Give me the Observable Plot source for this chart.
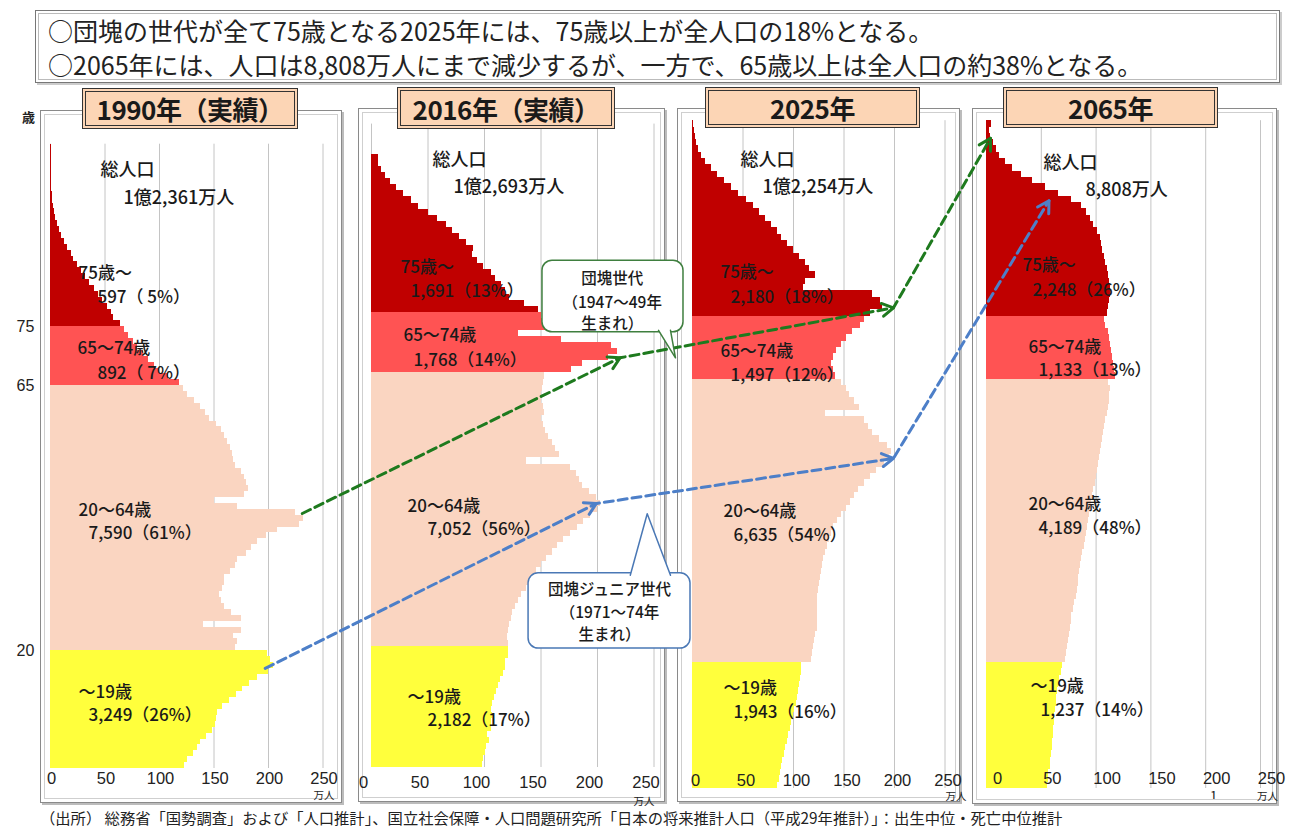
<!DOCTYPE html>
<html><head><meta charset="utf-8">
<script src="https://cdn.jsdelivr.net/npm/d3@7"></script>
<script src="https://cdn.jsdelivr.net/npm/@observablehq/plot@0.6"></script>
<style>
body{margin:0;background:#fff;font-family:"Noto Sans CJK JP",sans-serif;color:#222;}
#page{position:relative;width:1293px;height:829px;overflow:hidden;background:#fff;}
.frame{position:absolute;border:1px solid #8a8a8a;box-shadow:inset 0 0 0 3px #fff,inset 0 0 0 4px #cfcfcf,2px 2px 0 #bcbcbc;}
.ttl{position:absolute;box-sizing:border-box;background:#fcd5b5;border:4px double #333;font-weight:700;font-size:26px;display:flex;align-items:center;justify-content:center;color:#1a1a1a;z-index:3;letter-spacing:-0.5px;}
#head{position:absolute;left:35px;top:10px;width:1245px;height:73px;box-sizing:border-box;border:1px solid #777;box-shadow:inset 0 0 0 2px #fff,inset 0 0 0 3px #bbb,2px 2px 0 #ccc;padding:2px 0 0 12px;font-size:25px;line-height:34px;white-space:nowrap;}
#cap{position:absolute;left:40px;top:806px;font-size:15.3px;white-space:nowrap;}
#pg{position:absolute;left:1210px;top:786px;font-size:13px;}
svg{position:absolute;top:0;}
g[aria-label="sou"] text{letter-spacing:5px;}
g[aria-label="total"] text{letter-spacing:1.5px;}
g[aria-label="grp"] text{letter-spacing:0.5px;}
g[aria-label="tick"] text{letter-spacing:1px;}
</style></head>
<body><div id="page">
<div id="head">○団塊の世代が全て75歳となる2025年には、75歳以上が全人口の18%となる。<br>○2065年には、人口は8,808万人にまで減少するが、一方で、65歳以上は全人口の約38%となる。</div>
<div id="cap">（出所） 総務省「国勢調査」および「人口推計」、国立社会保障・人口問題研究所「日本の将来推計人口（平成29年推計）」：出生中位・死亡中位推計</div>
<div id="pg">1</div>
</div>
<script>
// ---- data (万人, single years of age starting at 0) ----
const yearTitles = ["1990年（実績）", "2016年（実績）", "2025年", "2065年"];
const pop1990 = [123,126,131,135,138,143,149,151,152,153,158,164,171,176,183,190,200,205,202,199,
 170,172,168,175,140,175,166,160,157,155,158,160,160,165,170,172,180,184,190,198,
 208,228,232,225,172,150,178,182,180,178,175,170,168,167,165,162,160,157,152,146,
 142,138,132,126,122,
 118,108,100,95,90,85,80,76,72,68,
 64,58,56,52,48,44,40,36,32,28,25,21,19,16,13,10,8,6,4.5,3.5,2.5,1.8,1.5,1.2,1,1,1,1,1,1,1];
const pop2016 = [98,99,101,102,104,103,106,106,107,106,107,109,111,112,114,117,119,119,121,121,
 121,120,121,122,124,125,127,130,133,137,140,143,146,150,155,160,165,170,176,182,
 188,194,200,203,199,193,187,184,181,176,137,166,163,160,157,154,152,150,153,152,
 150,150,151,152,153,
 177,187,210,218,212,168,130,158,158,150,
 148,135,122,119,115,110,106,99,94,89,90,84,78,72,66,58,50,42,35,28,22,17,12,9,6,6];
const pop2025 = [84,86,87,88,89,91,92,94,95,97,98,100,101,103,104,105,106,107,108,108,
 118,119,120,121,122,124,124,124,124,124,124,125,126,127,128,129,130,132,134,136,
 138,140,144,148,152,156,160,164,170,176,182,190,195,197,193,185,178,174,170,132,
 165,160,155,152,148,
 142,140,138,140,143,148,152,158,166,170,
 176,188,186,178,110,112,122,116,112,106,100,94,88,84,78,72,66,60,53,46,39,32,25,19,13,9,6,4,2.5,1.5,1];
const pop2065 = [56,57,57,58,58,59,60,60,61,61,62,62,63,64,64,65,66,67,68,69,
 72,73,74,75,76,77,78,78,79,80,82,83,84,84,85,86,87,88,89,90,
 91,92,93,94,95,96,97,98,99,100,101,102,103,104,105,106,107,108,109,110,
 111,112,112,113,111,
 118,117,116,115,114,113,112,111,109,108,
 110,111,112,113,113,112,111,110,109,108,106,105,104,101,98,95,91,87,78,66,54,42,32,24,17,12,9,6,4,3,5];
const pops = [pop1990, pop2016, pop2025, pop2065];

const groupNames = ["～19歳", "20～64歳", "65～74歳", "75歳～"];
const groupColors = ["#ffff3c", "#fad5c1", "#ff5353", "#c00000"];
const totals = ["1億2,361万人", "1億2,693万人", "1億2,254万人", "8,808万人"];
const values1990 = ["3,249（26%）", "7,590（61%）", "892（ 7%）", "597（ 5%）"];
const values2016 = ["2,182（17%）", "7,052（56%）", "1,768（14%）", "1,691（13%）"];
const values2025 = ["1,943（16%）", "6,635（54%）", "1,497（12%）", "2,180（18%）"];
const values2065 = ["1,237（14%）", "4,189（48%）", "1,133（13%）", "2,248（26%）"];
const groupValues = [values1990, values2016, values2025, values2065];
const xTicks = [0, 50, 100, 150, 200, 250];
const ageTicks = [20, 65, 75];

// cohorts followed by the arrows (value, age in each panel)
const dankaiPop = [231, 220, 199, 3.6];
const dankaiAge = [43.3, 67.5, 76.3, 103.2];
const juniorPop = [197, 199, 199, 57];
const juniorAge = [17, 43.5, 52.4, 93.3];

// ---- layout (page pixels) ----
const panels = [
  {slot: 0, w: 345, xr: [50, 322.5], yr: [768, 143.7], tdx: 1, tdy: 10, udx: 1, udy: 27,
   frame: [40, 110, 300, 691], title: [82, 88, 216, 41],
   lab: [[45.9,101.5],[67,96.9],[25.7,84],[43.1,80],[24.8,71.3],[43.1,67.1],[25.7,43.8],[34.9,39.9],[25.7,12.9],[34.9,9]]},
  {slot: 345, w: 325, xr: [371, 653.5], yr: [767, 123.6], tdx: -8, tdy: 15, udx: -10, udy: 34,
   frame: [358, 108, 305, 692], title: [397, 87, 218, 42],
   lab: [[54,100],[72.6,95.6],[25.7,82.4],[34.5,78.4],[28.3,71.2],[37.2,67.1],[31.9,43.0],[49.6,39.2],[31.9,11.5],[49.6,7.7]]},
  {slot: 670, w: 295, xr: [692, 944.5], yr: [788, 120.2], tdx: 3, tdy: -8, udx: 11, udy: 8,
   frame: [677, 108, 281, 692], title: [705, 87, 215, 41],
   lab: [[47.5,99.7],[69.3,95.4],[27.7,81.9],[37.6,77.9],[27.7,69.4],[37.6,65.6],[30.7,43.9],[40.6,40.1],[30.7,15.9],[40.6,12.1]]},
  {slot: 965, w: 328, xr: [986, 1260], yr: [788, 120.2], tdx: 11, tdy: -10, udx: 7, udy: 8,
   frame: [972, 108, 303, 694], title: [1003, 87, 215, 41],
   lab: [[52,99.2],[90.3,94.9],[32.8,83],[42,79],[38.3,70],[47.4,66.3],[38.3,45.0],[47.4,41.2],[40.1,16.2],[49.3,12.4]]}
];

const page = document.getElementById("page");
const groupOf = a => a >= 75 ? 3 : a >= 65 ? 2 : a >= 20 ? 1 : 0;
const plots = [];

panels.forEach((P) => {
  const f = document.createElement("div");
  f.className = "frame";
  Object.assign(f.style, {left: P.frame[0] + "px", top: P.frame[1] + "px", width: P.frame[2] + "px", height: P.frame[3] + "px"});
  page.appendChild(f);
});

panels.forEach((P, i) => {
  const rows = pops[i].map((v, age) => ({age, v, g: groupNames[groupOf(age)]}));
  const grp = [];
  [3, 2, 1, 0].forEach((g, k) => {
    const name = g === 3 ? "75歳～" : groupNames[g];
    grp.push({t: name, p: P.lab[2 + 2 * k]});
    grp.push({t: groupValues[i][g], p: P.lab[3 + 2 * k]});
  });
  const marks = [
    Plot.ruleX(xTicks, {y1: 0, y2: 106, stroke: "#c4c4c4", strokeWidth: 1}),
    Plot.rect(rows, {x1: d => 0, x2: "v", y1: "age", y2: d => d.age + 1, fill: "g", shapeRendering: "crispEdges"}),
    Plot.text(xTicks, {x: d => d, y: d => 0, text: d => String(d), dx: P.tdx, dy: P.tdy, fontSize: 16.5, fontFamily: "'Liberation Sans', Arial, sans-serif", fill: "#222", ariaLabel: "tick"}),
    Plot.text(["万人"], {x: d => 250, y: d => 0, text: d => d, dx: P.udx, dy: P.udy, fontSize: 10.5, fill: "#222"}),
    Plot.text(["総人口"], {x: d => P.lab[0][0], y: d => P.lab[0][1], text: d => d, textAnchor: "start", fontSize: 18, fontWeight: 500, fill: "#1a1a1a", ariaLabel: "sou"}),
    Plot.text([totals[i]], {x: d => P.lab[1][0], y: d => P.lab[1][1], text: d => d, textAnchor: "start", fontSize: 18, fontWeight: 500, fill: "#1a1a1a", ariaLabel: "total"}),
    Plot.text(grp, {x: d => d.p[0], y: d => d.p[1], text: "t", textAnchor: "start", fontSize: 17, fontWeight: 500, fill: "#1a1a1a", ariaLabel: "grp"})
  ];
  if (i === 0) {
    marks.push(Plot.text(ageTicks, {x: d => 0, y: d => d, text: d => String(d), dx: -25, fontSize: 16, fontFamily: "'Liberation Sans', Arial, sans-serif", fill: "#222"}));
    marks.push(Plot.text(["歳"], {x: d => 0, y: d => 110.5, text: d => d, dx: -22, fontSize: 13, fontWeight: 700, fill: "#222"}));
  }
  const plot = Plot.plot({
    width: P.w, height: 829, margin: 0,
    x: {domain: [0, 250], range: [P.xr[0] - P.slot, P.xr[1] - P.slot], axis: null},
    y: {domain: [0, 106], range: P.yr, axis: null},
    color: {domain: groupNames, range: groupColors},
    style: {fontFamily: "'Noto Sans CJK JP', sans-serif", background: "transparent", overflow: "visible"},
    marks
  });
  plot.style.left = P.slot + "px";
  plot.style.zIndex = 2;
  page.appendChild(plot);
  plots.push(plot);

  const t = document.createElement("div");
  t.className = "ttl";
  t.textContent = yearTitles[i];
  Object.assign(t.style, {left: P.title[0] + "px", top: P.title[1] + "px", width: P.title[2] + "px", height: P.title[3] + "px"});
  page.appendChild(t);
});

// ---- overlay: cohort arrows and call-outs (positions via panel scales) ----
const toPage = (i, v, a) => ({x: plots[i].scale("x").apply(v) + panels[i].slot, y: plots[i].scale("y").apply(a)});
const green = dankaiPop.map((v, i) => toPage(i, v, dankaiAge[i]));
const blue = juniorPop.map((v, i) => toPage(i, v, juniorAge[i]));
function heads(pts, id) {
  const out = [];
  for (let k = 1; k < pts.length; k++) {
    const s = pts[k - 1], t = pts[k];
    const L = Math.hypot(t.x - s.x, t.y - s.y), ux = (t.x - s.x) / L, uy = (t.y - s.y) / L;
    const ang = Math.PI / 6, len = 13;
    const w = sgn => ({x: t.x - len * (ux * Math.cos(ang) - sgn * uy * Math.sin(ang)), y: t.y - len * (uy * Math.cos(ang) + sgn * ux * Math.sin(ang))});
    out.push({...w(1), z: id + k}, {x: t.x, y: t.y, z: id + k}, {...w(-1), z: id + k});
  }
  return out;
}
// call-outs in 2016-panel data space
const callouts = [
  {color: "#3f7f3f", box: [151.3, 276.1, 83.5, 71.7], tail: [[254, 71.7], [269, 67.5], [264.6, 71.7]],
   lines: ["団塊世代", "（1947～49年", "生まれ）"], tx: 213, ty: [80.4, 76.5, 73.0]},
  {color: "#4a78b5", box: [139, 282.3, 32, 19.6], tail: [[229, 32], [244, 41.8], [264.6, 32]],
   lines: ["団塊ジュニア世代", "（1971～74年", "生まれ）"], tx: 210.6, ty: [29.3, 25.5, 21.8]}
];
const omarks = [];
const gc = "#1e7a1e", bc = "#4d7fc8";
omarks.push(Plot.line(green, {x: "x", y: "y", stroke: gc, strokeWidth: 3, strokeDasharray: "9,5"}));
omarks.push(Plot.line(blue, {x: "x", y: "y", stroke: bc, strokeWidth: 3, strokeDasharray: "9,5"}));
omarks.push(Plot.line(heads(green, "g"), {x: "x", y: "y", z: "z", stroke: gc, strokeWidth: 3}));
omarks.push(Plot.line(heads(blue, "b"), {x: "x", y: "y", z: "z", stroke: bc, strokeWidth: 3}));
callouts.forEach(c => {
  const p1 = toPage(1, c.box[0], c.box[2]), p2 = toPage(1, c.box[1], c.box[3]);
  omarks.push(Plot.rect([0], {x1: () => p1.x, x2: () => p2.x, y1: () => p1.y, y2: () => p2.y, rx: 10, fill: "white", stroke: c.color, strokeWidth: 1.5}));
  const top = c.tail[1][1] > c.box[2];
  const tl = c.tail.map((q, k) => { const p = toPage(1, q[0], q[1]); if (k !== 1) p.y += top ? 2 : -2; return p; });
  omarks.push(Plot.line(tl, {x: "x", y: "y", fill: "white", stroke: c.color, strokeWidth: 1.5}));
  const tp = c.lines.map((s, k) => ({...toPage(1, c.tx, c.ty[k]), s}));
  omarks.push(Plot.text(tp, {x: "x", y: "y", text: "s", fontSize: 15.5, fontWeight: 500, fill: "#1a1a1a", lineHeight: 1}));
});
const overlay = Plot.plot({
  width: 1293, height: 829, margin: 0,
  x: {type: "identity", axis: null}, y: {type: "identity", axis: null},
  style: {fontFamily: "'Noto Sans CJK JP', sans-serif", background: "transparent"},
  marks: omarks
});
overlay.style.left = "0px";
overlay.style.zIndex = 4;
overlay.style.pointerEvents = "none";
page.appendChild(overlay);
</script>
</body></html>
